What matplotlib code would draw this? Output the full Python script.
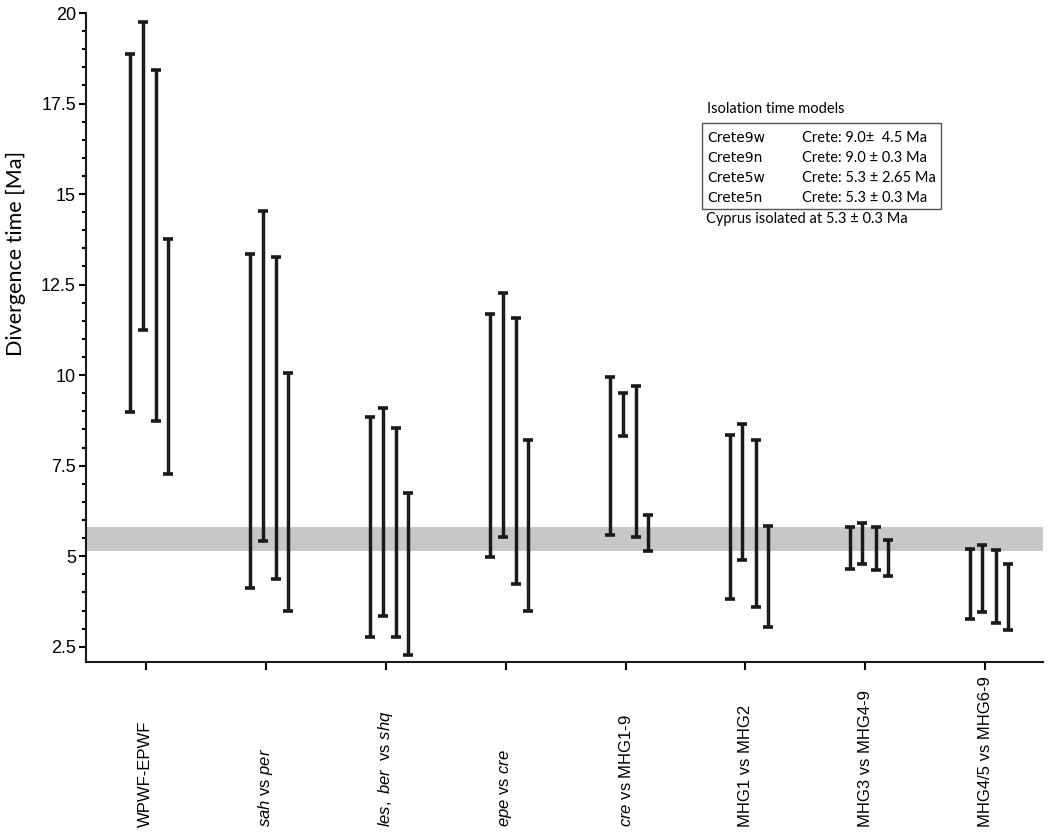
import matplotlib
matplotlib.use("Agg")
import matplotlib.pyplot as plt
from matplotlib.patches import Rectangle
from matplotlib.ticker import MultipleLocator
from matplotlib.transforms import blended_transform_factory
import numpy as np

# comparisons on the x axis
groups = [
    "WPWF-EPWF",
    r"$\mathit{sah}$ vs $\mathit{per}$",
    r"$\mathit{les,\ ber}$  vs $\mathit{shq}$",
    r"$\mathit{epe}$ vs $\mathit{cre}$",
    r"$\mathit{cre}$ vs MHG1-9",
    "MHG1 vs MHG2",
    "MHG3 vs MHG4-9",
    "MHG4/5 vs MHG6-9",
]

# divergence time intervals [Ma] for each isolation time model
crete9w_lo = [8.98, 4.12, 2.76, 4.99, 5.59, 3.82, 4.64, 3.27]
crete9w_hi = [18.86, 13.34, 8.83, 11.69, 9.96, 8.35, 5.82, 5.21]
crete9n_lo = [11.25, 5.41, 3.34, 5.52, 8.33, 4.90, 4.79, 3.45]
crete9n_hi = [19.76, 14.52, 9.08, 12.28, 9.52, 8.65, 5.91, 5.31]
crete5w_lo = [8.74, 4.38, 2.78, 4.24, 5.53, 3.60, 4.63, 3.15]
crete5w_hi = [18.43, 13.26, 8.55, 11.59, 9.70, 8.21, 5.82, 5.16]
crete5n_lo = [7.27, 3.48, 2.28, 3.48, 5.15, 3.04, 4.46, 2.95]
crete5n_hi = [13.75, 10.07, 6.74, 8.21, 6.15, 5.84, 5.45, 4.79]

# shaded band (Cyprus isolation)
band_lo, band_hi = 5.15, 5.8

model_names = ["Crete9w", "Crete9n", "Crete5w", "Crete5n"]
model_desc = ["Crete: 9.0\u00b1  4.5 Ma", "Crete: 9.0 \u00b1 0.3 Ma",
              "Crete: 5.3 \u00b1 2.65 Ma", "Crete: 5.3 \u00b1 0.3 Ma"]
note = "Cyprus isolated at 5.3 \u00b1 0.3 Ma"

plt.rcParams['mathtext.fontset'] = 'custom'
plt.rcParams['mathtext.rm'] = 'Liberation Sans'
plt.rcParams['mathtext.it'] = 'Liberation Sans:italic'

W, H = 1050, 833
fig = plt.figure(figsize=(W / 100, H / 100), dpi=100)
ax = fig.add_axes([85.7 / W, 1 - 662.3 / H, (1043 - 85.7) / W, (662.3 - 13) / H])

def px(x, y):
    return x / W, 1 - y / H

ax.axhspan(band_lo, band_hi, color="#c8c8c8", lw=0, zorder=1)

x = np.arange(len(groups))
offsets = [-0.13, -0.025, 0.09, 0.19]
series = [(crete9w_lo, crete9w_hi), (crete9n_lo, crete9n_hi),
          (crete5w_lo, crete5w_hi), (crete5n_lo, crete5n_hi)]
for off, (lo, hi) in zip(offsets, series):
    lo = np.array(lo)
    hi = np.array(hi)
    mid = (lo + hi) / 2
    ax.errorbar(x + off, mid, yerr=(hi - lo) / 2, fmt='none', ecolor="#1a1a1a",
                elinewidth=2.5, capsize=3.4, capthick=2.6, zorder=3)

ax.set_xlim(-0.5, 7.48)
ax.set_ylim(2.07, 20)
ax.spines['top'].set_visible(False)
ax.spines['right'].set_visible(False)
for s in ['left', 'bottom']:
    ax.spines[s].set_linewidth(1.5)
    ax.spines[s].set_color("#1a1a1a")

ax.yaxis.set_minor_locator(MultipleLocator(0.5))
ax.set_yticks([2.5, 5, 7.5, 10, 12.5, 15, 17.5, 20])
ax.set_yticklabels(["2.5", "5", "7.5", "10", "12.5", "15", "17.5", "20"],
                   fontfamily="Liberation Sans", fontsize=13)
ax.tick_params(axis='y', which='major', length=5, width=1.5, pad=2)
ax.tick_params(axis='y', which='minor', length=3, width=1.5)
ax.set_xticks(x)
ax.set_xticklabels([])
ax.tick_params(axis='x', which='major', length=6, width=1.5)

# rotated group labels, bottom-aligned near the figure edge
lab_tr = blended_transform_factory(ax.transData, fig.transFigure)
for i, g in enumerate(groups):
    ax.text(i, px(0, 827)[1], g, transform=lab_tr, rotation=90, ha='center',
            va='bottom', fontsize=12, fontfamily="Liberation Sans")

fig.text(*px(16, 253), "Divergence time [Ma]", rotation=90, ha='center', va='center',
         fontsize=15.5, fontfamily="Lato")

# legend box
fig.text(*px(707, 109), "Isolation time models", ha='left', va='center',
         fontsize=10.5, fontfamily="Lato")
x0, y0 = px(701.7, 209)
x1, y1 = px(940.7, 123.3)
fig.patches.append(Rectangle((x0, y0), x1 - x0, y1 - y0, transform=fig.transFigure,
                             fill=False, ec="#555555", lw=1.0))
rows_y = [138, 158, 178, 198]
for name, desc, ry in zip(model_names, model_desc, rows_y):
    fig.text(*px(707, ry), name, ha='left', va='center', fontsize=10,
             fontfamily="DejaVu Sans")
    fig.text(*px(802, ry), desc, ha='left', va='center', fontsize=10.5,
             fontfamily="Lato")
fig.text(*px(706, 219), note, ha='left', va='center', fontsize=10.5, fontfamily="Lato")

fig.savefig("out.png", dpi=100)
